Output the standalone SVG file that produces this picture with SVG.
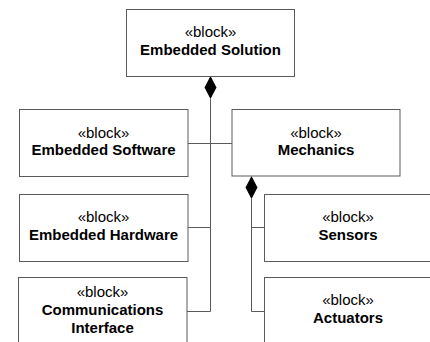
<svg xmlns="http://www.w3.org/2000/svg" width="430" height="342" viewBox="0 0 430 342">
  <style>
    .box { fill: #ffffff; stroke: #5a5a5a; stroke-width: 1; }
    .wire { fill: none; stroke: #5a5a5a; stroke-width: 1; }
    .diamond { fill: #000000; stroke: none; }
    text { font-family: "Liberation Sans", Arial, sans-serif; font-size: 15px; fill: #000000; text-anchor: middle; }
    .name { font-weight: bold; }
  </style>
  <rect width="430" height="342" fill="#ffffff"/>

  <g id="connectors">
    <!-- trunk from Embedded Solution -->
    <line class="wire" x1="210.5" y1="99" x2="210.5" y2="311.5"/>
    <line class="wire" x1="188" y1="143.5" x2="232" y2="143.5"/>
    <line class="wire" x1="188" y1="227.5" x2="210.5" y2="227.5"/>
    <line class="wire" x1="187" y1="311.5" x2="210.5" y2="311.5"/>
    <polygon class="diamond" points="210.5,76 216.5,87.5 210.5,99 204.5,87.5"/>
    <!-- trunk from Mechanics -->
    <line class="wire" x1="251.5" y1="199" x2="251.5" y2="311.5"/>
    <line class="wire" x1="251.5" y1="227.5" x2="264" y2="227.5"/>
    <line class="wire" x1="251.5" y1="311.5" x2="264" y2="311.5"/>
    <polygon class="diamond" points="251.5,176 257.5,187.5 251.5,199 245.5,187.5"/>
  </g>

  <g id="embedded-solution">
    <rect class="box" x="126.5" y="9.5" width="168" height="67"/>
    <text x="210.5" y="37">«block»</text>
    <text class="name" x="210.5" y="55">Embedded Solution</text>
  </g>

  <g id="embedded-software">
    <rect class="box" x="19.5" y="109.5" width="168.5" height="67"/>
    <text x="103.5" y="137.5">«block»</text>
    <text class="name" x="103.5" y="155">Embedded Software</text>
  </g>

  <g id="mechanics">
    <rect class="box" x="232" y="109.5" width="168" height="66.5"/>
    <text x="316" y="137.5">«block»</text>
    <text class="name" x="316" y="155">Mechanics</text>
  </g>

  <g id="embedded-hardware">
    <rect class="box" x="19.5" y="194.5" width="168.5" height="67"/>
    <text x="103.5" y="222">«block»</text>
    <text class="name" x="103.5" y="240">Embedded Hardware</text>
  </g>

  <g id="sensors">
    <rect class="box" x="264.5" y="194.5" width="168" height="67"/>
    <text x="348" y="222">«block»</text>
    <text class="name" x="348" y="240">Sensors</text>
  </g>

  <g id="communications-interface">
    <rect class="box" x="18.5" y="277.5" width="168.5" height="70"/>
    <text x="102.5" y="297">«block»</text>
    <text class="name" x="102.5" y="315">Communications</text>
    <text class="name" x="102.5" y="333">Interface</text>
  </g>

  <g id="actuators">
    <rect class="box" x="264.5" y="277.5" width="168" height="70"/>
    <text x="348" y="305">«block»</text>
    <text class="name" x="348" y="323">Actuators</text>
  </g>
</svg>
